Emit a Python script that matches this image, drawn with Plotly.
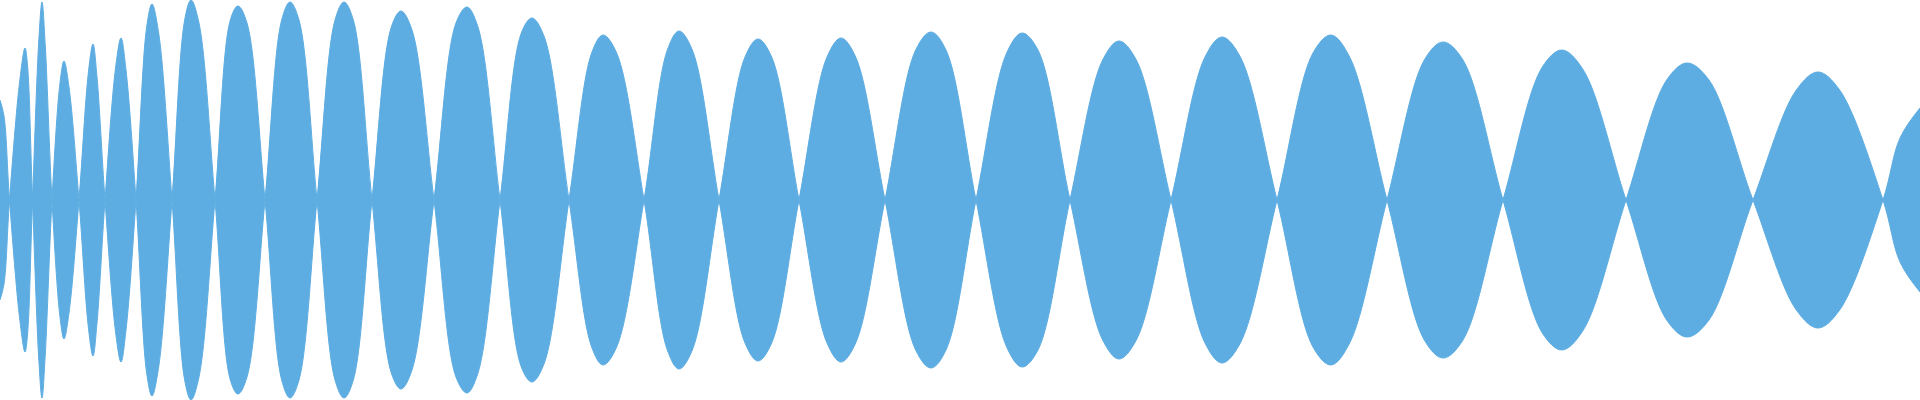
import plotly.graph_objects as go

# waveform: zero crossings, lobe peaks and their heights
head_x = [0, 4]
head_amp = [100, 84]

crossings = [9.5, 32.5, 52, 79, 105, 136, 172, 215, 265, 317, 372, 434, 500,
             569, 644, 719, 799, 885, 976, 1070, 1171, 1277, 1387, 1503, 1626,
             1753, 1883]
peak_x = [25, 42, 64, 93, 121, 152, 191, 238, 290, 344, 401, 467, 532, 603,
          679, 758, 841, 931, 1022, 1119, 1222, 1331, 1443, 1562, 1687, 1818]
peak_amp = [152, 198, 139, 156, 162, 196, 200, 194, 198, 198, 189, 193, 182,
            165, 169, 161, 162, 168, 167, 159, 163, 165, 158, 150, 137, 128]
# heights two thirds of the way from each crossing up to the peak (left, right)
rise_amp = [120, 160, 117, 127, 133, 173, 180, 180, 180, 180, 173, 177, 167,
            147, 150, 143, 143, 150, 147, 140, 143, 147, 140, 133, 120, 110]
fall_amp = [135, 153, 113, 123, 130, 167, 177, 177, 180, 180, 170, 173, 163,
            147, 150, 143, 143, 150, 150, 140, 143, 143, 140, 130, 120, 110]

tail_x = [1900, 1920]
tail_amp = [62, 92]

COLOR = '#5DADE2'


def build_signal():
    xs = list(head_x) + [crossings[0]]
    ys = list(head_amp) + [0]
    sign = -1
    for i in range(len(peak_x)):
        left, p, right = crossings[i], peak_x[i], crossings[i + 1]
        xs += [left + 2 * (p - left) / 3, p, p + (right - p) / 3, right]
        ys += [sign * rise_amp[i], sign * peak_amp[i], sign * fall_amp[i], 0]
        sign = -sign
    xs += tail_x
    ys += [sign * a for a in tail_amp]
    return xs, ys


x, y = build_signal()

fig = go.Figure()
for s in (1, -1):
    fig.add_trace(go.Scatter(
        x=x, y=[s * v for v in y],
        mode='lines', line=dict(color=COLOR, width=1, shape='spline'),
        fill='tozeroy', fillcolor=COLOR, hoverinfo='skip', showlegend=False,
    ))

fig.update_layout(
    width=1920, height=400,
    margin=dict(l=0, r=0, t=0, b=0),
    paper_bgcolor='white', plot_bgcolor='white',
    xaxis=dict(visible=False, range=[0, 1920]),
    yaxis=dict(visible=False, range=[-200, 200]),
)
fig.write_html("out.html", config={'displayModeBar': False},
               post_script="document.body.style.margin = '0';")
